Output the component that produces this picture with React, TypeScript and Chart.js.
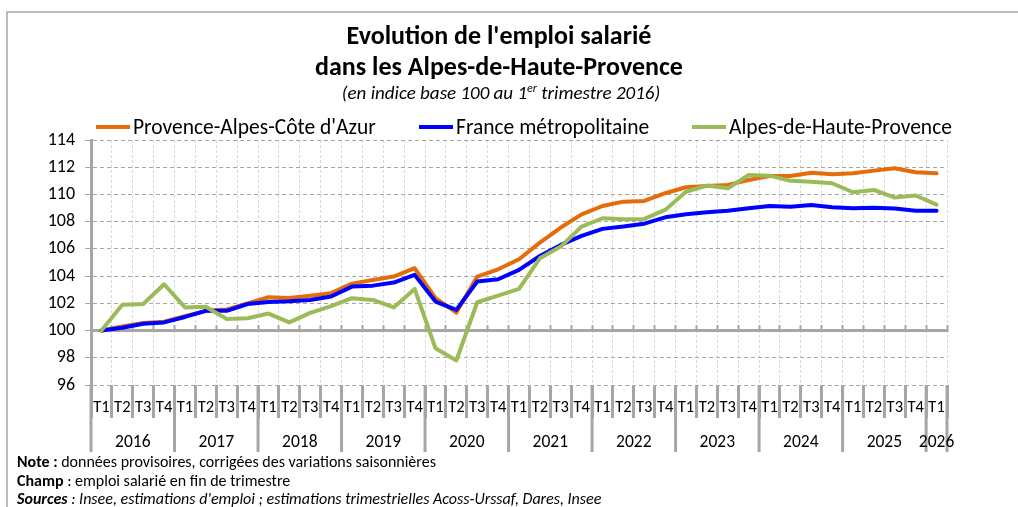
import React, { useEffect, useRef } from "react";
import { Chart, registerables } from "chart.js";

Chart.register(...registerables);

const FONT = "Carlito, Calibri, Lato, sans-serif";

const titleLines = ["Evolution de l'emploi salarié", "dans les Alpes-de-Haute-Provence"];
const subtitleParts = ["(en indice base 100 au 1", "er", " trimestre 2016)"];

const years = ["2016", "2017", "2018", "2019", "2020", "2021", "2022", "2023", "2024", "2025", "2026"];

const categories = [
  "2016 T1", "2016 T2", "2016 T3", "2016 T4",
  "2017 T1", "2017 T2", "2017 T3", "2017 T4",
  "2018 T1", "2018 T2", "2018 T3", "2018 T4",
  "2019 T1", "2019 T2", "2019 T3", "2019 T4",
  "2020 T1", "2020 T2", "2020 T3", "2020 T4",
  "2021 T1", "2021 T2", "2021 T3", "2021 T4",
  "2022 T1", "2022 T2", "2022 T3", "2022 T4",
  "2023 T1", "2023 T2", "2023 T3", "2023 T4",
  "2024 T1", "2024 T2", "2024 T3", "2024 T4",
  "2025 T1", "2025 T2", "2025 T3", "2025 T4",
  "2026 T1",
];

const seriesLabels = ["Provence-Alpes-Côte d'Azur", "France métropolitaine", "Alpes-de-Haute-Provence"];
const seriesColors = ["#E46C0A", "#0000FF", "#9BBB59"];

const pacaValues = [
  100.0, 100.3, 100.55, 100.65,
  101.05, 101.45, 101.55, 102.0,
  102.45, 102.4, 102.55, 102.75,
  103.45, 103.72, 103.97, 104.58,
  102.38, 101.32, 103.97, 104.5,
  105.24, 106.46, 107.57, 108.54,
  109.15, 109.47, 109.52, 110.09,
  110.53, 110.62, 110.7, 111.06,
  111.36, 111.36, 111.6, 111.48,
  111.55, 111.75, 111.92, 111.63,
  111.55,
];

const franceValues = [
  100.0, 100.2, 100.5, 100.6,
  101.0, 101.45, 101.45, 101.95,
  102.1, 102.15, 102.25, 102.5,
  103.23, 103.3, 103.53, 104.09,
  102.13, 101.52, 103.6, 103.77,
  104.46, 105.48, 106.29, 106.95,
  107.47, 107.64, 107.85, 108.32,
  108.54, 108.69, 108.81, 108.98,
  109.15, 109.1, 109.23, 109.06,
  108.98, 109.03, 108.96, 108.81,
  108.81,
];

const alpesValues = [
  100.0, 101.89, 101.95, 103.4,
  101.7, 101.75, 100.85, 100.9,
  101.25, 100.6, 101.3, 101.8,
  102.38, 102.25, 101.7, 103.06,
  98.7, 97.8, 102.08, 102.57,
  103.06, 105.31, 106.17, 107.64,
  108.25, 108.18, 108.2, 108.86,
  110.2, 110.65, 110.45, 111.43,
  111.38, 111.0, 110.94, 110.82,
  110.16, 110.33, 109.77, 109.92,
  109.25,
];

const yMin = 96;
const yMax = 114;
const yStep = 2;
const axisCrossValue = 100;

const footnotes = [
  [
    { text: "Note :", weight: "bold", style: "normal" },
    { text: " données provisoires, corrigées des variations saisonnières", weight: "normal", style: "normal" },
  ],
  [
    { text: "Champ", weight: "bold", style: "normal" },
    { text: " : emploi salarié en fin de trimestre", weight: "normal", style: "normal" },
  ],
  [
    { text: "Sources", weight: "bold", style: "italic" },
    { text: " : Insee, estimations d'emploi ; estimations trimestrielles Acoss-Urssaf, Dares, Insee", weight: "normal", style: "italic" },
  ],
];

const GRID_GRAY = "#a6a6a6";
const LIGHT_GRAY = "#d9d9d9";
const LEGEND_X = [96, 419, 692];

function drawRuns(ctx: CanvasRenderingContext2D, runs: any[], x: number, y: number, size: number) {
  let cx = x;
  for (const r of runs) {
    ctx.font = `${r.style} ${r.weight} ${size}px ${FONT}`;
    ctx.fillText(r.text, cx, y);
    cx += ctx.measureText(r.text).width;
  }
}

const decorPlugin = {
  id: "decor",
  afterDraw(chart: any) {
    const ctx: CanvasRenderingContext2D = chart.ctx;
    const xs = chart.scales.x;
    const area = chart.chartArea;
    ctx.save();

    // frame
    ctx.strokeStyle = GRID_GRAY;
    ctx.lineWidth = 1.5;
    ctx.beginPath();
    ctx.moveTo(7, 507);
    ctx.lineTo(7, 12);
    ctx.lineTo(1018, 12);
    ctx.stroke();

    // title
    ctx.fillStyle = "#000";
    ctx.textBaseline = "alphabetic";
    ctx.textAlign = "center";
    ctx.font = `bold 26px ${FONT}`;
    ctx.fillText(titleLines[0], 499, 44);
    ctx.fillText(titleLines[1], 499, 75);

    // subtitle with superscript
    ctx.textAlign = "left";
    const subMain = `italic 19px ${FONT}`;
    const subSup = `italic 12px ${FONT}`;
    ctx.font = subMain;
    const w0 = ctx.measureText(subtitleParts[0]).width;
    const w2 = ctx.measureText(subtitleParts[2]).width;
    ctx.font = subSup;
    const w1 = ctx.measureText(subtitleParts[1]).width;
    let sx = 501 - (w0 + w1 + w2) / 2;
    ctx.font = subMain;
    ctx.fillText(subtitleParts[0], sx, 99);
    sx += w0;
    ctx.font = subSup;
    ctx.fillText(subtitleParts[1], sx, 92);
    sx += w1;
    ctx.font = subMain;
    ctx.fillText(subtitleParts[2], sx, 99);

    // legend
    ctx.font = `21.5px ${FONT}`;
    chart.data.datasets.forEach((ds: any, i: number) => {
      const lx = LEGEND_X[i];
      ctx.strokeStyle = ds.borderColor;
      ctx.lineWidth = 4;
      ctx.lineCap = "butt";
      ctx.beginPath();
      ctx.moveTo(lx, 127);
      ctx.lineTo(lx + 34, 127);
      ctx.stroke();
      ctx.fillStyle = "#000";
      ctx.fillText(ds.label, lx + 37, 134);
    });

    // year group separators and labels
    const half = (xs.getPixelForValue(1) - xs.getPixelForValue(0)) / 2;
    const n = categories.length;
    ctx.strokeStyle = GRID_GRAY;
    ctx.lineWidth = 3;
    ctx.font = `17.5px ${FONT}`;
    ctx.textAlign = "center";
    ctx.fillStyle = "#000";
    years.forEach((yr, k) => {
      const start = k * 4;
      const end = Math.min(start + 3, n - 1);
      const left = xs.getPixelForValue(start) - half;
      const right = xs.getPixelForValue(end) + half;
      ctx.beginPath();
      ctx.moveTo(left, area.bottom);
      ctx.lineTo(left, 452);
      ctx.stroke();
      if (k === years.length - 1) {
        ctx.beginPath();
        ctx.moveTo(right, area.bottom);
        ctx.lineTo(right, 452);
        ctx.stroke();
      }
      ctx.fillText(yr, (left + right) / 2, 447);
    });

    // footnotes
    ctx.textAlign = "left";
    const baselines = [467, 486, 504];
    footnotes.forEach((runs, i) => drawRuns(ctx, runs, 17, baselines[i], 16));

    ctx.restore();
  },
};

export default function App() {
  const ref = useRef<HTMLCanvasElement | null>(null);

  useEffect(() => {
    if (!ref.current) return;
    const mk = (i: number, data: number[], order: number) => ({
      label: seriesLabels[i],
      data,
      borderColor: seriesColors[i],
      backgroundColor: seriesColors[i],
      borderWidth: 4,
      pointRadius: 0,
      tension: 0,
      borderJoinStyle: "round" as const,
      borderCapStyle: "round" as const,
      order,
    });
    const chart = new Chart(ref.current, {
      type: "line",
      data: {
        labels: categories,
        datasets: [mk(0, pacaValues, 3), mk(1, franceValues, 2), mk(2, alpesValues, 1)],
      },
      options: {
        responsive: false,
        animation: false,
        devicePixelRatio: 1,
        layout: { padding: { top: 140, right: 71, left: 0, bottom: 0 } },
        plugins: {
          legend: { display: false },
          title: { display: false },
          tooltip: { enabled: false },
        },
        scales: {
          x: {
            type: "category",
            offset: true,
            grid: {
              display: true,
              drawOnChartArea: true,
              offset: true,
              color: LIGHT_GRAY,
              lineWidth: 1,
              drawTicks: true,
              tickLength: 33,
              tickColor: GRID_GRAY,
              tickWidth: 3,
            },
            border: { display: false, dash: [3, 2] },
            ticks: {
              autoSkip: false,
              maxRotation: 0,
              minRotation: 0,
              padding: -20,
              color: "#000",
              font: { family: FONT, size: 16.5 },
              callback: (_v: any, i: number) => categories[i].split(" ")[1],
            },
            afterFit: (s: any) => {
              s.height = 122;
            },
          },
          x2: {
            type: "category",
            axis: "x",
            position: { y: axisCrossValue },
            offset: true,
            grid: {
              display: true,
              drawOnChartArea: false,
              offset: true,
              drawTicks: true,
              tickLength: -7,
              tickColor: GRID_GRAY,
              tickWidth: 2,
            },
            border: { display: true, color: GRID_GRAY, width: 3 },
            ticks: { display: false },
          },
          y: {
            min: yMin,
            max: yMax,
            ticks: {
              stepSize: yStep,
              color: "#000",
              padding: 10,
              font: { family: FONT, size: 18 },
            },
            grid: {
              color: GRID_GRAY,
              lineWidth: 1,
              drawTicks: true,
              tickLength: 6,
              tickColor: GRID_GRAY,
            },
            border: { display: true, color: GRID_GRAY, width: 3, dash: [4, 3] },
            afterFit: (s: any) => {
              s.width = 91;
            },
          },
        } as any,
      },
      plugins: [decorPlugin],
    });
    return () => chart.destroy();
  }, []);

  return (
    <div style={{ position: "absolute", left: 0, top: 0, width: 1018, height: 507, background: "#fff" }}>
      <canvas ref={ref} width={1018} height={507} />
    </div>
  );
}
